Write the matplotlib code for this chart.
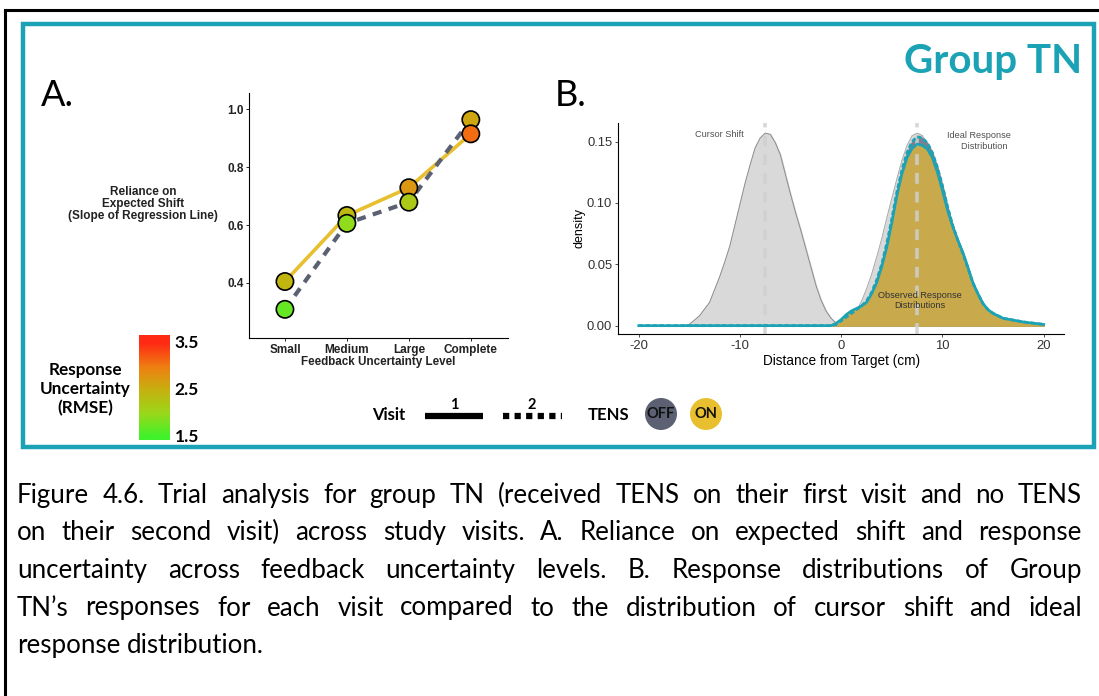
import numpy as np
import matplotlib
matplotlib.use("Agg")
import matplotlib.pyplot as plt
from matplotlib.colors import LinearSegmentedColormap, Normalize
from matplotlib.patches import Rectangle, Ellipse
from matplotlib.lines import Line2D

W, H, DPI = 1099, 696, 100

# ---------------- Panel A: reliance on expected shift ----------------
levels = ["Small", "Medium", "Large", "Complete"]
reliance_visit1 = [0.405, 0.633, 0.729, 0.915]   # TENS on
reliance_visit2 = [0.309, 0.606, 0.679, 0.964]   # TENS off
rmse_visit1 = [2.45, 2.40, 2.75, 3.10]
rmse_visit2 = [1.72, 1.95, 2.20, 2.60]
reliance_ticks = [0.4, 0.6, 0.8, 1.0]
rmse_ticks = [1.5, 2.5, 3.5]

# ---------------- Panel B: response distributions ----------------
cursor_x = [-15.5, -15.0, -14.0, -13.0, -12.0, -11.5, -11.0, -10.5, -10.0, -9.5,
            -9.0, -8.5, -8.0, -7.5, -7.0, -6.5, -6.0, -5.5, -5.0, -4.5, -4.0,
            -3.5, -3.0, -2.5, -2.0, -1.5, -1.0, -0.5, 0.0]
cursor_d = [0.000, 0.001, 0.008, 0.019, 0.040, 0.052, 0.065, 0.082, 0.099, 0.116,
            0.131, 0.145, 0.153, 0.157, 0.156, 0.149, 0.139, 0.123, 0.107, 0.092,
            0.078, 0.063, 0.048, 0.033, 0.021, 0.012, 0.006, 0.002, 0.000]

ideal_x = [-0.5, 0.0, 0.5, 1.0, 1.5, 2.0, 2.5, 3.0, 3.5, 4.0, 4.5, 5.0, 5.5, 6.0,
           6.5, 7.0, 7.5, 8.0, 8.5, 9.0, 9.5, 10.0, 10.5, 11.0, 11.5, 12.0, 12.5,
           13.0, 13.5, 14.0, 14.5, 15.0, 15.5]
ideal_d = [0.000, 0.001, 0.003, 0.007, 0.012, 0.020, 0.030, 0.042, 0.056, 0.071,
           0.088, 0.104, 0.120, 0.135, 0.147, 0.155, 0.157, 0.155, 0.147, 0.135,
           0.120, 0.104, 0.088, 0.071, 0.056, 0.042, 0.030, 0.020, 0.012, 0.007,
           0.003, 0.001, 0.000]

response_x = [-20.0, -1.0, -0.5, 0.0, 0.5, 1.0, 1.5, 2.0, 2.5, 3.0, 3.5, 4.0, 4.5,
              5.0, 5.5, 6.0, 6.5, 7.0, 7.5, 8.0, 8.5, 9.0, 9.5, 10.0, 10.5, 11.0,
              11.5, 12.0, 12.5, 13.0, 13.5, 14.0, 14.5, 15.0, 16.0, 17.0, 18.0,
              19.0, 20.0]
response_visit1 = [0.000, 0.000, 0.002, 0.005, 0.009, 0.012, 0.014, 0.016, 0.019,
                   0.026, 0.035, 0.048, 0.064, 0.084, 0.106, 0.124, 0.137, 0.1445,
                   0.148, 0.147, 0.144, 0.137, 0.125, 0.110, 0.094, 0.081, 0.070,
                   0.060, 0.048, 0.035, 0.026, 0.018, 0.013, 0.010, 0.006, 0.0045,
                   0.003, 0.002, 0.001]
response_visit2 = [0.000, 0.000, 0.001, 0.004, 0.007, 0.010, 0.013, 0.016, 0.020,
                   0.027, 0.037, 0.050, 0.067, 0.087, 0.109, 0.127, 0.141, 0.150,
                   0.154, 0.153, 0.149, 0.141, 0.129, 0.114, 0.097, 0.082, 0.070,
                   0.059, 0.047, 0.035, 0.026, 0.018, 0.013, 0.010, 0.006, 0.0045,
                   0.003, 0.002, 0.001]
shift_means = [-7.5, 7.5]
distance_ticks = [-20, -10, 0, 10, 20]
density_ticks = [0.00, 0.05, 0.10, 0.15]

caption_lines = [
    "Figure 4.6. Trial analysis for group TN (received TENS on their first visit and no TENS",
    "on their second visit) across study visits. A. Reliance on expected shift and response",
    "uncertainty across feedback uncertainty levels. B. Response distributions of Group",
    "TN\u2019s responses for each visit compared to the distribution of cursor shift and ideal",
    "response distribution.",
]

# ---------------- styling ----------------
TEAL = "#1ba2b4"
GOLD = "#e8bf2e"
SLATE = "#5b6173"
FILL_OBS = "#c8a94c"
ARIAL = "Liberation Sans"
CAL = "Lato"

rmse_cmap = LinearSegmentedColormap.from_list(
    "rmse", [(0.0, "#3ff22b"), (0.25, "#9ad81a"), (0.5, "#c6b10f"),
             (0.75, "#ef7e12"), (1.0, "#ff2a14")])
rmse_norm = Normalize(vmin=1.5, vmax=3.5)


def fx(px):
    return px / W


def fy(py):
    return 1 - py / H


fig = plt.figure(figsize=(W / DPI, H / DPI), dpi=DPI)
fig.patch.set_facecolor("white")

# ---------- frames ----------
fig.add_artist(Line2D([fx(5), fx(5)], [fy(10), 0], color="black", lw=2.2))
fig.add_artist(Line2D([fx(5), 1], [fy(10), fy(10)], color="black", lw=2.2))
fig.add_artist(Rectangle((fx(23), fy(447)), (1094 - 23) / W, (447 - 24) / H,
                         fill=False, edgecolor=TEAL, lw=3.2,
                         transform=fig.transFigure))

fig.text(fx(1082), fy(73), "Group TN", color=TEAL, fontsize=29, family=CAL,
         fontweight="bold", ha="right", va="baseline")
fig.text(fx(41), fy(106), "A.", fontsize=26, family=CAL, ha="left", va="baseline")
fig.text(fx(555), fy(106), "B.", fontsize=26, family=CAL, ha="left", va="baseline")

# ---------- Panel A ----------
axA = fig.add_axes([fx(249), fy(338), (508 - 249) / W, (338 - 93) / H])
xpos = np.arange(1, len(levels) + 1)
axA.plot(xpos, reliance_visit1, color=GOLD, lw=2.6, zorder=2,
         solid_capstyle="butt")
axA.plot(xpos, reliance_visit2, color=SLATE, lw=3.0, zorder=2,
         linestyle=(0, (2.2, 1.8)), dash_capstyle="butt")
vals = np.array(reliance_visit1 + reliance_visit2)
cols = np.array(rmse_visit1 + rmse_visit2)
xs = np.concatenate([xpos, xpos])
order = np.argsort(-vals)
axA.scatter(xs[order], vals[order], c=cols[order], cmap=rmse_cmap, norm=rmse_norm,
            s=155, edgecolors="black", linewidths=1.2, zorder=3)
axA.set_xlim(0.42, 4.6)
axA.set_ylim(0.21, 1.056)
axA.set_xticks(xpos)
axA.set_xticklabels(levels)
axA.set_yticks(reliance_ticks)
axA.set_yticklabels([f"{v:.1f}" for v in reliance_ticks])
for lab in axA.get_xticklabels() + axA.get_yticklabels():
    lab.set_fontweight("bold")
    lab.set_family(ARIAL)
    lab.set_color("#222222")
axA.tick_params(axis="x", labelsize=8.5, length=2, width=0.6, pad=2)
axA.tick_params(axis="y", labelsize=8.5, length=2, width=0.6, pad=2)
for s in ["top", "right"]:
    axA.spines[s].set_visible(False)
for s in ["left", "bottom"]:
    axA.spines[s].set_linewidth(0.8)
axA.set_xlabel("Feedback Uncertainty Level", fontsize=8.4, fontweight="bold",
               family=ARIAL, labelpad=0.0, color="#222222")
fig.text(fx(143), fy(204), "Reliance on\nExpected Shift\n(Slope of Regression Line)",
         ha="center", va="center", fontsize=8.5, fontweight="bold", family=ARIAL,
         linespacing=1.05, color="#222222")

# colour bar for response uncertainty
axC = fig.add_axes([fx(139), fy(440), (170 - 139) / W, (440 - 335) / H])
lo, hi = 1.44, 3.67
grad = np.linspace(lo, hi, 256)[:, None]
axC.imshow(grad, extent=[0, 1, lo, hi], origin="lower", aspect="auto",
           cmap=rmse_cmap, norm=rmse_norm)
axC.set_xlim(0, 1)
axC.set_ylim(lo, hi)
axC.axis("off")
for v in rmse_ticks:
    axC.text(1.15, v, f"{v:.1f}", transform=axC.get_yaxis_transform(),
             ha="left", va="center", fontsize=12.5, fontweight="bold", family=CAL)
fig.text(fx(85), fy(389), "Response\nUncertainty\n(RMSE)", ha="center", va="center",
         fontsize=12.3, fontweight="bold", family=CAL, linespacing=1.25)

# ---------- Panel B ----------
axB = fig.add_axes([fx(618.4), fy(334), (1064 - 618.4) / W, (334 - 123) / H])
axB.fill_between(cursor_x, cursor_d, color="#d9d9d9", zorder=1)
axB.plot(cursor_x, cursor_d, color="#8c8c8c", lw=0.7, zorder=1.1)
axB.fill_between(ideal_x, ideal_d, color="#d9d9d9", zorder=1)
axB.plot(ideal_x, ideal_d, color="#a6a6a6", lw=0.6, zorder=1.1)
axB.fill_between(response_x, response_visit2, color="#7b8193", zorder=2)
axB.fill_between(response_x, response_visit1, color=FILL_OBS, zorder=2.1)
for m in shift_means:
    axB.axvline(m, color="#d0d0d0", lw=2.6, alpha=0.85, linestyle=(0, (3, 2.2)),
                zorder=2.5)
axB.plot(response_x, response_visit2, color=TEAL, lw=2.0,
         linestyle=(0, (1.6, 0.9)), zorder=3)
axB.plot(response_x, response_visit1, color=TEAL, lw=1.9, zorder=3.1)
axB.set_xlim(-22, 22)
axB.set_ylim(-0.0068, 0.1652)
axB.set_xticks(distance_ticks)
axB.set_xticklabels([str(t) for t in distance_ticks])
axB.set_yticks(density_ticks)
axB.set_yticklabels([f"{t:.2f}" for t in density_ticks])
for lab in axB.get_xticklabels() + axB.get_yticklabels():
    lab.set_family(ARIAL)
axB.tick_params(labelsize=9.4, length=2.5, width=0.6, pad=2, colors="#333333")
for s in ["top", "right"]:
    axB.spines[s].set_visible(False)
for s in ["left", "bottom"]:
    axB.spines[s].set_linewidth(0.8)
axB.set_xlabel("Distance from Target (cm)", fontsize=9.8, family=ARIAL, labelpad=1)
axB.set_ylabel("density", fontsize=9.0, family=ARIAL, labelpad=1)
ann = dict(fontsize=6.6, family=ARIAL, color="#505050", ha="center", va="center",
           zorder=5)
axB.text(-12.05, 0.1555, "Cursor Shift", **ann)
axB.text(13.6, 0.1505, "Ideal Response\n    Distribution", linespacing=1.25, **ann)
axB.text(7.8, 0.0205, "Observed Response\nDistributions", linespacing=1.25,
         **{**ann, "color": "#333333"})

# ---------- legend ----------
fig.text(fx(372), fy(415), "Visit", fontsize=12, fontweight="bold", family=CAL,
         ha="left", va="center")
fig.add_artist(Line2D([fx(425), fx(483)], [fy(416), fy(416)], color="black",
                      lw=4.5, solid_capstyle="butt"))
fig.text(fx(454), fy(405), "1", fontsize=10.5, fontweight="bold", family=CAL,
         ha="center", va="center")
fig.add_artist(Line2D([fx(503), fx(562)], [fy(416), fy(416)], color="black",
                      lw=4.5, linestyle=(0, (1, 0.85)), dash_capstyle="butt"))
fig.text(fx(532), fy(405), "2", fontsize=10.5, fontweight="bold", family=CAL,
         ha="center", va="center")
fig.text(fx(588), fy(415), "TENS", fontsize=12, fontweight="bold", family=CAL,
         ha="left", va="center")
for cx, col, lab in [(661, SLATE, "OFF"), (706, GOLD, "ON")]:
    fig.add_artist(Ellipse((fx(cx), fy(414)), 32 / W, 32 / H, facecolor=col,
                           edgecolor="none", transform=fig.transFigure))
    fig.text(fx(cx), fy(414), lab, fontsize=10.5, fontweight="bold", family=CAL,
             ha="center", va="center", color="#111111")

# ---------- justified caption ----------
x0, x1 = 17, 1082
renderer = fig.canvas.get_renderer()
cap_size = 18.6

for i, line in enumerate(caption_lines):
    base = 502.7 + 37.6 * i
    words = line.split(" ")
    texts = [fig.text(0, 0, w, fontsize=cap_size, family=CAL, va="baseline")
             for w in words]
    widths = [t.get_window_extent(renderer).width for t in texts]
    if i < len(caption_lines) - 1:
        gap = (x1 - x0 - sum(widths)) / (len(words) - 1)
    else:
        sp = fig.text(0, 0, "a a", fontsize=cap_size, family=CAL)
        sp2 = fig.text(0, 0, "aa", fontsize=cap_size, family=CAL)
        gap = sp.get_window_extent(renderer).width - sp2.get_window_extent(renderer).width
        sp.remove()
        sp2.remove()
    x = x0
    for t, w in zip(texts, widths):
        t.set_position((fx(x), fy(base)))
        x += w + gap

fig.savefig("out.png", dpi=DPI, facecolor="white")
